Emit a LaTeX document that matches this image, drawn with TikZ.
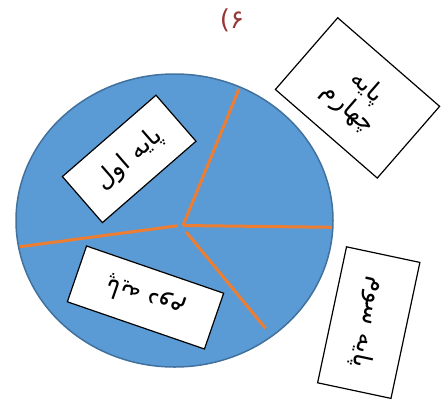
\documentclass[tikz,border=0pt]{standalone}
\usepackage{fontspec}
\newfontfamily\arabicfont[Script=Arabic]{DejaVu Sans}
\TeXXeTstate=1
\definecolor{PieClr}{RGB}{91,155,213}
\definecolor{PieEdgeClr}{RGB}{65,113,156}
\definecolor{CutClr}{RGB}{237,125,49}
\definecolor{TitleClr}{RGB}{149,55,53}

\begin{document}
\begin{tikzpicture}[x=1pt,y=-1pt,
  gradebox/.style={draw=black,fill=white,line width=1.2pt,inner sep=0pt,
    font=\arabicfont\fontsize{25}{28}\selectfont},
  cutline/.style={line width=3pt,color=CutClr}]
\useasboundingbox (0,0) rectangle (447,400);

\node[text=TitleClr,font=\arabicfont\fontsize{26}{30}\selectfont] (title) at (232,20) {۶)};

\draw[fill=PieClr,draw=PieEdgeClr,line width=1.5pt] (174.5,220.5) ellipse [x radius=158.5pt,y radius=146.5pt];

\coordinate (C) at (183,225.5);
\coordinate (CL) at (178,225.7);
\coordinate (CB) at (186,231.7);
\coordinate (T) at (239,89);
\coordinate (R) at (332,227.3);
\coordinate (L) at (20,246.7);
\coordinate (B) at (265.5,328.3);

\draw[cutline] (C) -- (T);
\draw[cutline] (C) -- (R);
\draw[cutline] (CL) -- (L);
\draw[cutline] (CB) -- (B);

\node[gradebox,minimum width=124pt,minimum height=61pt,rotate=41] (first) at (129.2,158.9) {\beginR پایه اول\endR};
\node[gradebox,minimum width=145pt,minimum height=59pt,rotate=161] (second) at (145.5,297.5) {\beginR پایه دوم\endR};
\node[gradebox,minimum width=139pt,minimum height=75pt,rotate=-102] (third) at (368.75,322.6) {\beginR پایه سوم\endR};
\node[gradebox,minimum width=135pt,minimum height=95pt,rotate=-41,align=center] (fourth) at (357.5,97.9) {\beginR پایه\endR\\\beginR چهارم\endR};

\end{tikzpicture}
\end{document}
